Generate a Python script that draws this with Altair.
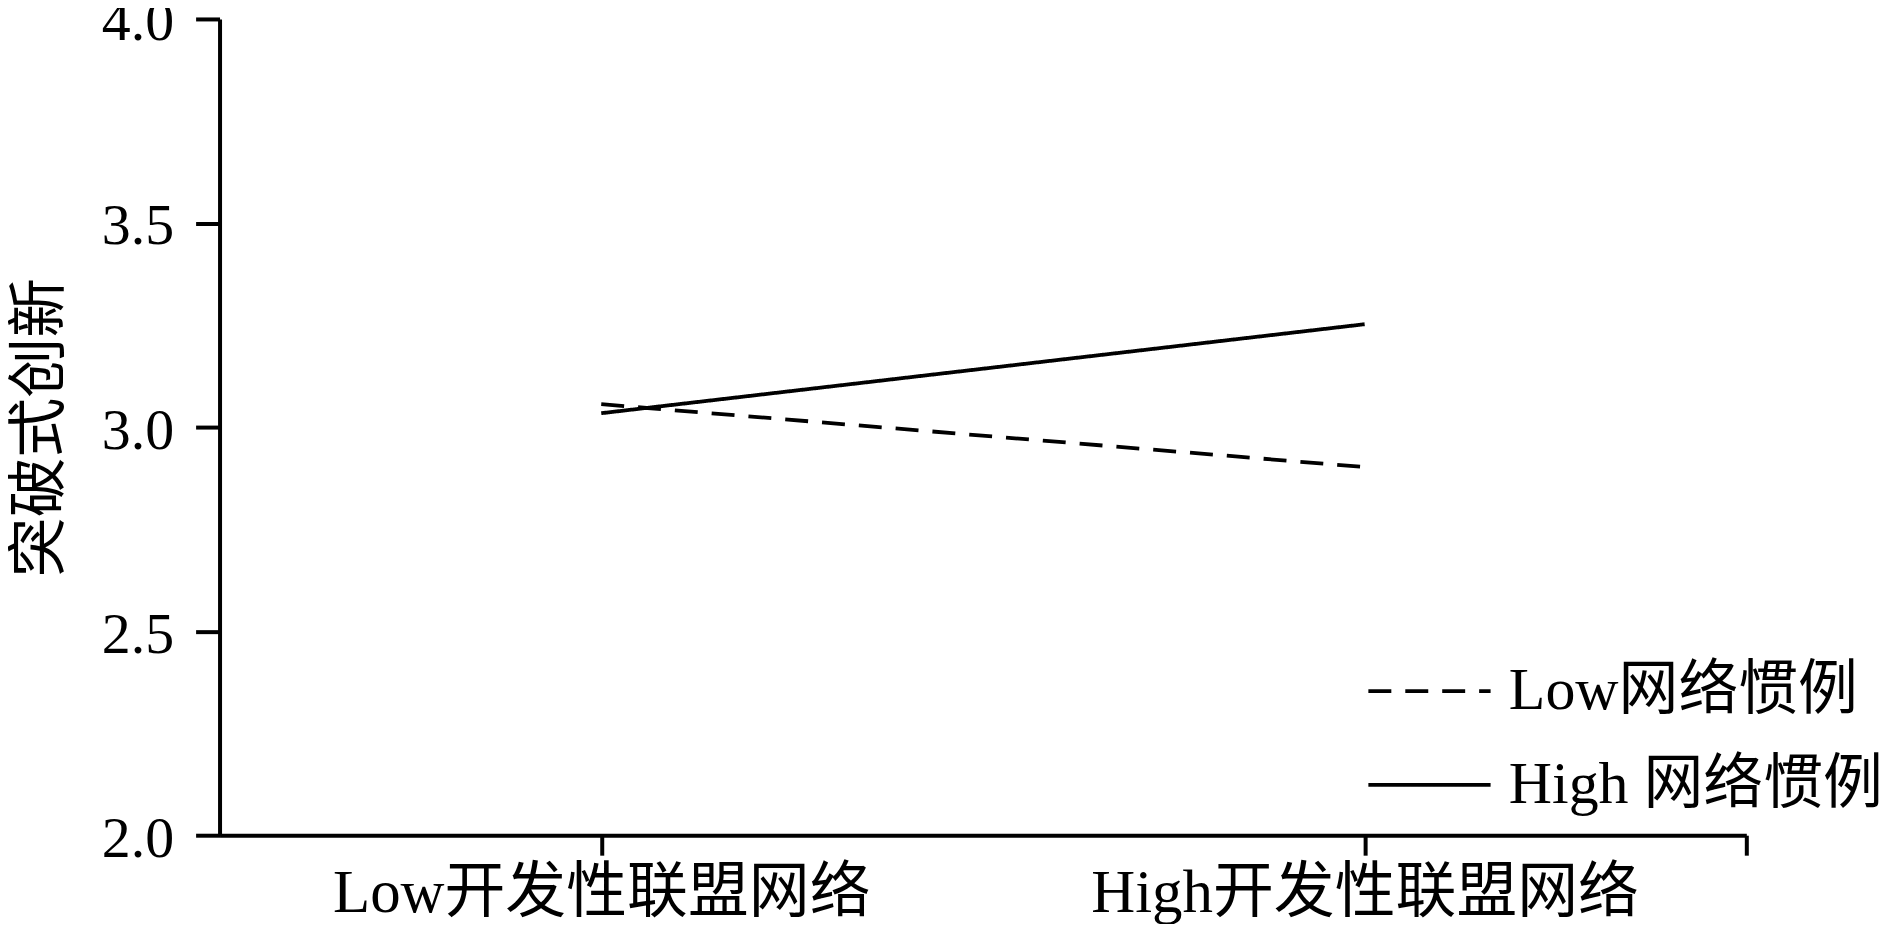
import altair as alt
import pandas as pd

x_categories = ["Low开发性联盟网络", "High开发性联盟网络"]
series_names = ["Low网络惯例", "High 网络惯例"]
low_values = [3.056, 2.902]
high_values = [3.034, 3.252]
y_ticks = [2.0, 2.5, 3.0, 3.5, 4.0]
x_tick_positions = [0, 1, 1.5]

rows = []
for s, vals in zip(series_names, [low_values, high_values]):
    for i, (c, v) in enumerate(zip(x_categories, vals)):
        rows.append({"series": s, "cat": c, "xi": i, "value": v})
df = pd.DataFrame(rows)

FONT = "Liberation Serif, Noto Sans CJK SC"
label_expr = "datum.value == 0 ? '%s' : datum.value == 1 ? '%s' : ''" % tuple(x_categories)

chart = alt.Chart(df).mark_line(color="black", strokeWidth=3.8).encode(
    x=alt.X(
        "xi:Q",
        scale=alt.Scale(domain=[-0.5, 1.5], nice=False, zero=False),
        axis=alt.Axis(
            values=x_tick_positions, labelExpr=label_expr, title=None, grid=False,
            domainColor="black", domainWidth=4, tickColor="black", tickWidth=4,
            tickSize=20, labelFont=FONT, labelFontSize=61, labelColor="black",
            labelPadding=8, labelOverlap=False, labelFlush=False, labelLimit=0,
        ),
    ),
    y=alt.Y(
        "value:Q",
        scale=alt.Scale(domain=[2, 4], nice=False, zero=False),
        axis=alt.Axis(
            values=y_ticks, format=".1f", title="突破式创新", grid=False,
            domainColor="black", domainWidth=4, tickColor="black", tickWidth=4,
            tickSize=24, labelFont=FONT, labelFontSize=58, labelColor="black",
            labelPadding=22, labelOffset=4, labelOverlap=False, labelFlush=False,
            labelLimit=0,
            titleFont=FONT, titleFontSize=60, titleFontWeight="normal",
            titleColor="black", titlePadding=30,
        ),
    ),
    strokeDash=alt.StrokeDash(
        "series:N",
        scale=alt.Scale(domain=series_names, range=[[23, 14], [1, 0]]),
        legend=alt.Legend(
            title=None, orient="none", legendX=1149, legendY=610,
            symbolType="stroke", symbolSize=15000, symbolStrokeWidth=3.8,
            symbolStrokeColor="black", labelFont=FONT, labelFontSize=60,
            labelColor="black", labelOffset=16, rowPadding=-41, labelLimit=0,
        ),
    ),
).properties(
    width=1530, height=818,
    padding={"left": 212, "top": 10, "right": 146, "bottom": 88},
    autosize=alt.AutoSizeParams(type="none"),
).configure(background="white").configure_view(stroke=None)

chart.save("out.html", embed_options={"renderer": "svg", "actions": False})
